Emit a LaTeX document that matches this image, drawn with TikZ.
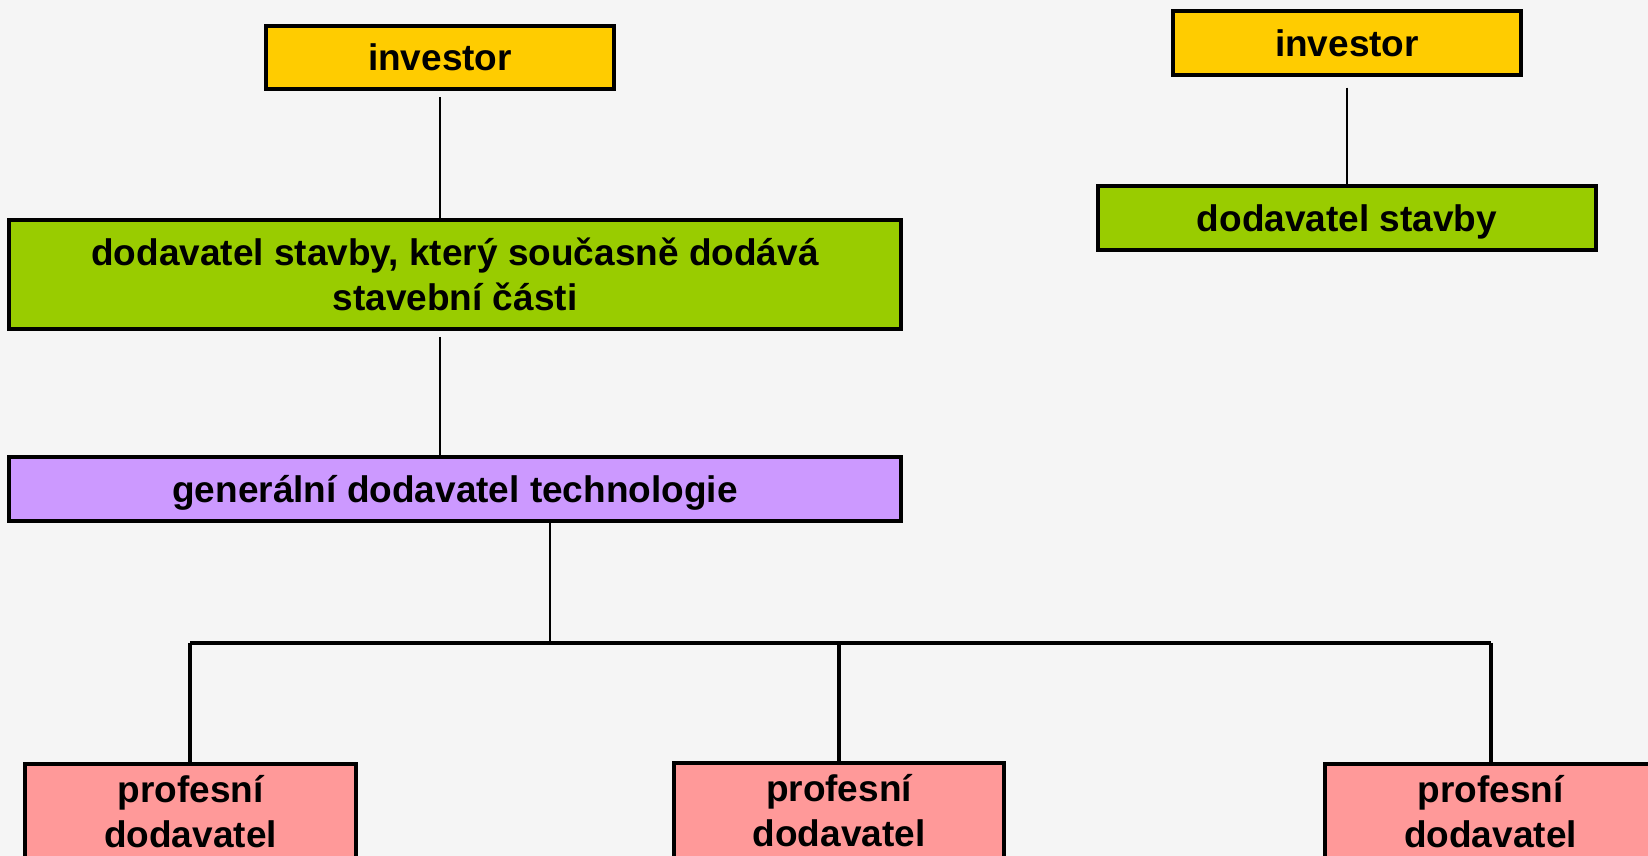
\documentclass[tikz,border=0pt]{standalone}
\usepackage{fontspec}
\setmainfont{Liberation Sans}
\definecolor{bgc}{HTML}{F5F5F5}
\definecolor{yel}{HTML}{FFCC00}
\definecolor{grn}{HTML}{99CC00}
\definecolor{pur}{HTML}{CC99FF}
\definecolor{pnk}{HTML}{FF9999}
\tikzset{
  box/.style={draw=black, line width=3pt, inner sep=0pt, align=center,
    font=\fontsize{27.75pt}{33.75pt}\selectfont\bfseries},
  oneline/.style={text depth=0pt},
  thin/.style={line width=1.3pt},
  thick/.style={line width=2.4pt},
}
\begin{document}
\begin{tikzpicture}[x=0.75pt,y=-0.75pt]
\fill[bgc] (0,0) rectangle (1648,856);
\useasboundingbox (0,0) rectangle (1648,856);
\clip (0,0) rectangle (1648,856);
\node[box, oneline, fill=yel, minimum width=261pt, minimum height=47.5pt] (inv1) at (440,57.5) {investor};
\node[box, fill=grn, minimum width=669pt, minimum height=81.5pt] (gr1) at (455,274.5) {dodavatel stavby, který současně dodává\\stavební části};
\node[box, oneline, fill=pur, minimum width=669pt, minimum height=48pt] (pd) at (455,489) {generální dodavatel technologie};
\node[box, oneline, fill=yel, minimum width=261pt, minimum height=48pt] (inv2) at (1347,43) {investor};
\node[box, oneline, fill=grn, minimum width=373.5pt, minimum height=48pt] (gr2) at (1347,218) {dodavatel stavby};
\node[box, fill=pnk, minimum width=248.5pt, minimum height=72pt] (pk1) at (190.5,812) {profesní\\dodavatel};
\node[box, fill=pnk, minimum width=247.5pt, minimum height=72pt] (pk2) at (839,811) {profesní\\dodavatel};
\node[box, fill=pnk, minimum width=248.5pt, minimum height=72pt] (pk3) at (1490.5,812) {profesní\\dodavatel};
\coordinate (bar) at (550,643);
\coordinate (barL) at (190,643);
\coordinate (barR) at (1491,643);
\draw[thin, shorten <=4.5pt] (inv1.south) -- (inv1.south |- gr1.north);
\draw[thin, shorten <=4.5pt] (gr1.south -| inv1) -- (pd.north -| inv1);
\draw[thin, shorten <=8pt] (inv2.south) -- (gr2.north);
\draw[thin] (pd.south -| bar) -- (bar);
\draw[thick] (barL) -- (barR);
\draw[thick] (barL) -- (barL |- pk1.north);
\draw[thick] (pk2.north |- bar) -- (pk2.north);
\draw[thick] (barR) -- (barR |- pk3.north);
\end{tikzpicture}
\end{document}
